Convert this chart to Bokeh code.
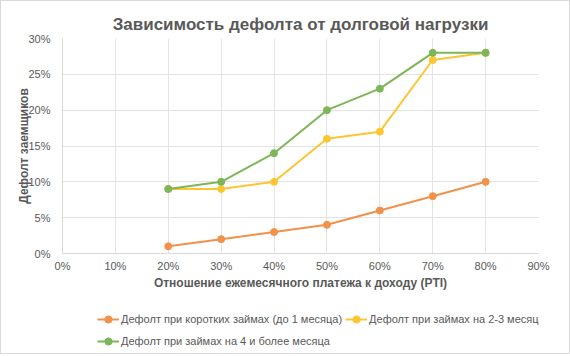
from bokeh.plotting import figure
from bokeh.layouts import column
from bokeh.models import (NumeralTickFormatter, FixedTicker, Range1d, Legend, LegendItem)
from bokeh.embed import file_html
from bokeh.resources import INLINE

pti = [0.2, 0.3, 0.4, 0.5, 0.6, 0.7, 0.8]
short_loans = [0.01, 0.02, 0.03, 0.04, 0.06, 0.08, 0.10]
mid_loans = [0.09, 0.09, 0.10, 0.16, 0.17, 0.27, 0.28]
long_loans = [0.09, 0.10, 0.14, 0.20, 0.23, 0.28, 0.28]
x_ticks = [0, 0.1, 0.2, 0.3, 0.4, 0.5, 0.6, 0.7, 0.8, 0.9]
y_ticks = [0, 0.05, 0.10, 0.15, 0.20, 0.25, 0.30]
names = ["Дефолт при коротких займах (до 1 месяца)",
         "Дефолт при займах на 2-3 месяца",
         "Дефолт при займах на 4 и более месяца"]
colors = ["#F2914A", "#FDC631", "#7DB659"]

FONT = "Liberation Sans"
TXT = "#595959"

p = figure(frame_width=476, frame_height=215, output_backend="svg", toolbar_location=None,
           x_range=Range1d(0, 0.9), y_range=Range1d(0, 0.3),
           min_border_left=61, min_border_right=30, min_border_top=37, min_border_bottom=44)

p.title.text = "Зависимость дефолта от долговой нагрузки"
p.title.text_font = FONT
p.title.text_font_size = "17px"
p.title.text_color = TXT
p.title.align = "center"
p.title.text_font_style = "bold"

for ys, c in zip([short_loans, mid_loans, long_loans], colors):
    p.line(pti, ys, line_color=c, line_width=2)
    p.scatter(pti, ys, size=7, fill_color=c, line_color=c)

p.xaxis.ticker = FixedTicker(ticks=x_ticks)
p.yaxis.ticker = FixedTicker(ticks=y_ticks)
p.xaxis.formatter = NumeralTickFormatter(format="0%")
p.yaxis.formatter = NumeralTickFormatter(format="0%")
for ax in (p.xaxis, p.yaxis):
    ax.major_tick_line_color = None
    ax.minor_tick_line_color = None
    ax.axis_line_color = "#d9d9d9"
    ax.major_label_text_font = FONT
    ax.major_label_text_font_size = "11px"
    ax.major_label_text_color = TXT
    ax.axis_label_text_font = FONT
    ax.axis_label_text_font_size = "12px"
    ax.axis_label_text_font_style = "bold"
    ax.axis_label_text_color = TXT
p.xaxis.axis_label = "Отношение ежемесячного платежа к доходу (PTI)"
p.yaxis.axis_label = "Дефолт заемщиков"
p.xaxis.major_label_standoff = 0
p.yaxis.major_label_standoff = 6
p.xaxis.axis_label_standoff = 1
p.yaxis.axis_label_standoff = -6

p.grid.grid_line_color = "#e3e3e3"
p.grid.grid_line_width = 1
p.outline_line_color = None

# legend strip below the chart: same series, drawn out of view, only their legend shows
q = figure(width=568, height=56, output_backend="svg", toolbar_location=None,
           x_axis_type=None, y_axis_type=None, min_border=0,
           min_border_left=0, min_border_right=0, min_border_top=0, min_border_bottom=0,
           x_range=Range1d(-10, -9), y_range=Range1d(-10, -9))
q.grid.visible = False
q.outline_line_color = None
items = []
for n, ys, c in zip(names, [short_loans, mid_loans, long_loans], colors):
    l = q.line(pti, ys, line_color=c, line_width=2)
    s = q.scatter(pti, ys, size=7, fill_color=c, line_color=c)
    items.append(LegendItem(label=n, renderers=[l, s]))

common = dict(orientation="horizontal",
              label_text_font=FONT, label_text_font_size="11px", label_text_color=TXT,
              glyph_width=22, glyph_height=18, label_standoff=2, spacing=3, padding=2,
              margin=0, label_height=18,
              border_line_color=None, background_fill_alpha=0)
legend1 = Legend(items=items[:2], location=(35, 25), **common)
legend2 = Legend(items=items[2:], location=(35, 3), **common)
q.add_layout(legend1, "center")
q.add_layout(legend2, "center")

layout = column(p, q, spacing=0, styles={"border": "1px solid #d9d9d9"})

open("out.html", "w").write(file_html(layout, INLINE))
